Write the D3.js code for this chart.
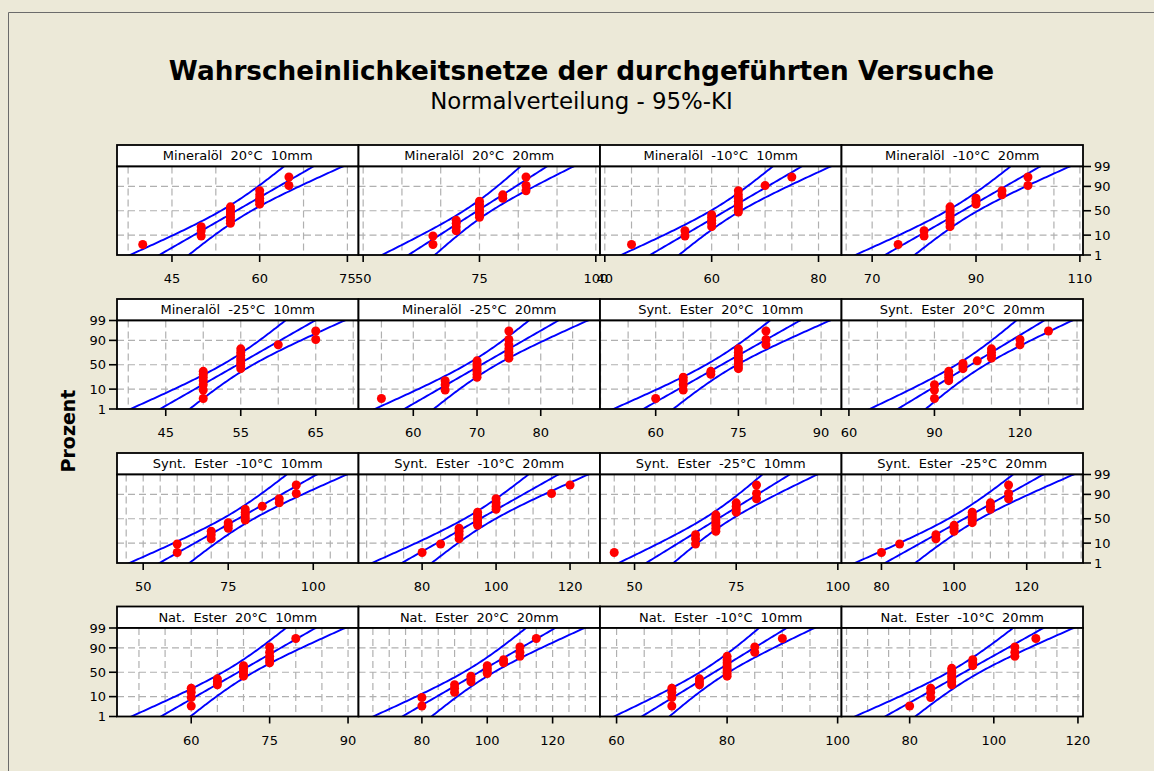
<!DOCTYPE html>
<html><head><meta charset="utf-8">
<script src="https://cdn.jsdelivr.net/npm/d3@7"></script>
<style>
html,body{margin:0;padding:0;background:#ECE9D8;}
svg{display:block;}
text{font-family:"DejaVu Sans", sans-serif;fill:#000;}
</style></head><body>
<svg id="chart" width="1154" height="771"></svg>
<script>
// ---- data: 16 test series (breakdown values), one array per panel ----
const panelTitles = [
  "Mineralöl 20°C 10mm", "Mineralöl 20°C 20mm", "Mineralöl -10°C 10mm", "Mineralöl -10°C 20mm",
  "Mineralöl -25°C 10mm", "Mineralöl -25°C 20mm", "Synt. Ester 20°C 10mm", "Synt. Ester 20°C 20mm",
  "Synt. Ester -10°C 10mm", "Synt. Ester -10°C 20mm", "Synt. Ester -25°C 10mm", "Synt. Ester -25°C 20mm",
  "Nat. Ester 20°C 10mm", "Nat. Ester 20°C 20mm", "Nat. Ester -10°C 10mm", "Nat. Ester -10°C 20mm"
];
const mineral_20_10 = [40, 50, 50, 50, 55, 55, 55, 55, 55, 55, 55, 60, 60, 60, 60, 60, 65, 65];
const mineral_20_20 = [65, 65, 70, 70, 70, 70, 75, 75, 75, 75, 75, 75, 75, 80, 80, 85, 85, 85];
const mineral_m10_10 = [45, 55, 55, 60, 60, 60, 60, 60, 65, 65, 65, 65, 65, 65, 65, 65, 70, 75];
const mineral_m10_20 = [75, 80, 80, 85, 85, 85, 85, 85, 85, 85, 85, 90, 90, 90, 95, 95, 100, 100];
const mineral_m25_10 = [50, 50, 50, 50, 50, 50, 50, 55, 55, 55, 55, 55, 55, 55, 55, 60, 65, 65];
const mineral_m25_20 = [55, 65, 65, 65, 70, 70, 70, 70, 70, 70, 70, 75, 75, 75, 75, 75, 75, 75];
const synt_20_10 = [60, 65, 65, 65, 65, 70, 70, 75, 75, 75, 75, 75, 75, 75, 75, 80, 80, 80];
const synt_20_20 = [90, 90, 90, 95, 95, 95, 95, 100, 100, 100, 105, 110, 110, 110, 110, 120, 120, 130];
const synt_m10_10 = [60, 60, 70, 70, 70, 75, 75, 75, 80, 80, 80, 80, 80, 85, 90, 90, 95, 95];
const synt_m10_20 = [80, 85, 90, 90, 90, 90, 95, 95, 95, 95, 95, 95, 100, 100, 100, 100, 115, 120];
const synt_m25_10 = [45, 65, 65, 65, 70, 70, 70, 70, 70, 70, 70, 75, 75, 75, 75, 80, 80, 80];
const synt_m25_20 = [80, 85, 95, 95, 100, 100, 100, 105, 105, 105, 105, 105, 110, 110, 110, 115, 115, 115];
const nat_20_10 = [60, 60, 60, 60, 65, 65, 65, 70, 70, 70, 70, 70, 75, 75, 75, 75, 75, 80];
const nat_20_20 = [80, 80, 90, 90, 90, 95, 95, 95, 100, 100, 100, 100, 105, 105, 110, 110, 110, 115];
const nat_m10_10 = [70, 70, 70, 70, 75, 75, 75, 80, 80, 80, 80, 80, 80, 80, 80, 85, 85, 90];
const nat_m10_20 = [80, 85, 85, 85, 90, 90, 90, 90, 90, 90, 90, 95, 95, 95, 105, 105, 105, 110];
const panelValues = [
  mineral_20_10, mineral_20_20, mineral_m10_10, mineral_m10_20,
  mineral_m25_10, mineral_m25_20, synt_20_10, synt_20_20,
  synt_m10_10, synt_m10_20, synt_m25_10, synt_m25_20,
  nat_20_10, nat_20_20, nat_m10_10, nat_m10_20
];
// fitted normal parameters (mean, standard deviation) per panel
const fitMeans = [56.0, 74.6, 62.65, 87.4, 54.57, 70.67, 71.96, 102.8,
                  77.9, 95.66, 70.5, 102.77, 68.98, 97.4, 77.67, 92.96];
const fitStDevs = [5.66, 6.40, 6.10, 6.42, 4.44, 5.20, 6.11, 11.05,
                   9.95, 9.10, 7.6, 9.37, 6.36, 10.06, 5.64, 8.09];
// x axis ranges, labelled ticks and grid spacing per panel
const xDomains = [
  [35.6, 76.9], [49, 100.9], [39.1, 84.3], [64.1, 110.6],
  [38.5, 70.7], [51.4, 89.3], [49.9, 93.7], [57.4, 142.1],
  [42.3, 113.3], [62.8, 128.1], [41.5, 100.9], [69, 135.5],
  [45.8, 92], [60.6, 134.5], [57, 100.7], [63.8, 121.2]
];
const xTicks = [
  [45, 60, 75], [50, 75, 100], [40, 60, 80], [70, 90, 110],
  [45, 55, 65], [60, 70, 80], [60, 75, 90], [60, 90, 120],
  [50, 75, 100], [80, 100, 120], [50, 75, 100], [80, 100, 120],
  [60, 75, 90], [80, 100, 120], [60, 80, 100], [80, 100, 120]
];
const xGridSteps = [7.5, 25 / 3, 5, 5, 5, 5, 5, 10, 5, 5, 5, 5, 5, 5, 5, 5];
// probability axis (percent)
const yTickLabels = [1, 10, 50, 90, 99];
const yGridLines = [10, 50, 90];
const confLevel = 0.95;

// ---- inverse standard normal CDF (Acklam) ----
function probit(p) {
  const a = [-3.969683028665376e+01, 2.209460984245205e+02, -2.759285104469687e+02, 1.383577518672690e+02, -3.066479806614716e+01, 2.506628277459239e+00];
  const b = [-5.447609879822406e+01, 1.615858368580409e+02, -1.556989798598866e+02, 6.680131188771972e+01, -1.328068155288572e+01];
  const c = [-7.784894002430293e-03, -3.223964580411365e-01, -2.400758277161838e+00, -2.549732539343734e+00, 4.374664141464968e+00, 2.938163982698783e+00];
  const d = [7.784695709041462e-03, 3.224671290700398e-01, 2.445134137142996e+00, 3.754408661907416e+00];
  const pl = 0.02425, ph = 1 - pl;
  let q, r;
  if (p < pl) { q = Math.sqrt(-2 * Math.log(p));
    return (((((c[0]*q+c[1])*q+c[2])*q+c[3])*q+c[4])*q+c[5]) / ((((d[0]*q+d[1])*q+d[2])*q+d[3])*q+1); }
  if (p > ph) { q = Math.sqrt(-2 * Math.log(1 - p));
    return -(((((c[0]*q+c[1])*q+c[2])*q+c[3])*q+c[4])*q+c[5]) / ((((d[0]*q+d[1])*q+d[2])*q+d[3])*q+1); }
  q = p - 0.5; r = q * q;
  return (((((a[0]*r+a[1])*r+a[2])*r+a[3])*r+a[4])*r+a[5])*q / (((((b[0]*r+b[1])*r+b[2])*r+b[3])*r+b[4])*r+1);
}

// ---- layout ----
const svg = d3.select("#chart");
const W = 1154, H = 771;
const colLeft = [117, 358.5, 600, 841.5];
const panelW = 241.5;
const rowTop = [145, 299, 453, 606.5];
const stripH = 21.5, plotH = 88.5;
const zLo = probit(0.01), zHi = probit(0.99);
const zCrit = probit(1 - (1 - confLevel) / 2);

svg.append("rect").attr("width", W).attr("height", H).attr("fill", "#ECE9D8");
svg.append("path").attr("d", `M8.5,${H} V12.5 H${W}`).attr("fill", "none").attr("stroke", "#6b6b6b").attr("stroke-width", 1);

// titles
function fitText(sel, width) {
  const w = sel.node().getComputedTextLength();
  const fs = parseFloat(sel.attr("font-size"));
  sel.attr("font-size", fs * width / w);
}
const title = svg.append("text").attr("x", 581.5).attr("y", 80).attr("text-anchor", "middle")
  .attr("font-size", 23).attr("font-weight", "bold")
  .text("Wahrscheinlichkeitsnetze der durchgeführten Versuche");
fitText(title, 826);
const subtitle = svg.append("text").attr("x", 581.5).attr("y", 109).attr("text-anchor", "middle")
  .attr("font-size", 18).text("Normalverteilung - 95%-KI");
fitText(subtitle, 303);

svg.append("text").attr("transform", "translate(75,431) rotate(-90)").attr("text-anchor", "middle")
  .attr("font-size", 19).attr("font-weight", "bold").text("Prozent");

const defs = svg.append("defs");

panelValues.forEach((vals, k) => {
  const row = Math.floor(k / 4), col = k % 4;
  const x0 = colLeft[col], x1 = x0 + panelW;
  const sTop = rowTop[row], pTop = sTop + stripH, pBot = pTop + plotH;
  const x = d3.scaleLinear().domain(xDomains[k]).range([x0, x1]);
  const y = d3.scaleLinear().domain([zLo, zHi]).range([pBot, pTop]);
  const g = svg.append("g");

  // strip
  g.append("rect").attr("x", x0).attr("y", sTop).attr("width", panelW).attr("height", stripH)
    .attr("fill", "#fff").attr("stroke", "#000").attr("stroke-width", 1.8);
  g.append("text").attr("x", (x0 + x1) / 2).attr("y", sTop + stripH / 2 + 4.6).attr("text-anchor", "middle")
    .attr("font-size", 13).attr("word-spacing", 4).text(panelTitles[k]);

  // plot area
  g.append("rect").attr("x", x0).attr("y", pTop).attr("width", panelW).attr("height", plotH).attr("fill", "#fff");

  const clipId = "clip" + k;
  defs.append("clipPath").attr("id", clipId).append("rect")
    .attr("x", x0).attr("y", pTop).attr("width", panelW).attr("height", plotH);
  const inner = g.append("g").attr("clip-path", `url(#${clipId})`);

  // grid
  const step = xGridSteps[k];
  const gridVals = d3.range(Math.ceil(xDomains[k][0] / step - 1e-9) * step, xDomains[k][1], step);
  inner.append("g").selectAll("line").data(gridVals).join("line")
    .attr("x1", d => x(d)).attr("x2", d => x(d)).attr("y1", pTop).attr("y2", pBot)
    .attr("stroke", "#b0b0b0").attr("stroke-width", 1.2).attr("stroke-dasharray", "7,4");
  inner.append("g").selectAll("line").data(yGridLines).join("line")
    .attr("x1", x0).attr("x2", x1).attr("y1", d => y(probit(d / 100))).attr("y2", d => y(probit(d / 100)))
    .attr("stroke", "#b0b0b0").attr("stroke-width", 1.2).attr("stroke-dasharray", "7,4");

  // fitted normal percentile line with 95% confidence band
  const n = vals.length;
  const mu = fitMeans[k], sd = fitStDevs[k];
  const zs = d3.range(zLo - 0.05, zHi + 0.06, 0.05);
  const band = [-1, 0, 1].map(s => zs.map(z => ({
    z, v: mu + z * sd + s * zCrit * sd * Math.sqrt((1 + z * z / 2) / n)
  })));
  const line = d3.line().x(d => x(d.v)).y(d => y(d.z));
  inner.append("g").selectAll("path").data(band).join("path")
    .attr("d", line).attr("fill", "none").attr("stroke", "#0000ff").attr("stroke-width", 1.9);

  // data points at median ranks
  const sorted = vals.slice().sort(d3.ascending);
  inner.append("g").selectAll("circle").data(sorted).join("circle")
    .attr("cx", d => x(d)).attr("cy", (d, i) => y(probit((i + 1 - 0.3) / (n + 0.4))))
    .attr("r", 4.5).attr("fill", "#ff0000");

  // frame
  g.append("rect").attr("x", x0).attr("y", pTop).attr("width", panelW).attr("height", plotH)
    .attr("fill", "none").attr("stroke", "#000").attr("stroke-width", 1.8);

  // x axis ticks
  const xa = g.append("g");
  xa.selectAll("line").data(xTicks[k]).join("line")
    .attr("x1", d => x(d)).attr("x2", d => x(d)).attr("y1", pBot).attr("y2", pBot + 7)
    .attr("stroke", "#000").attr("stroke-width", 1.6);
  xa.selectAll("text").data(xTicks[k]).join("text")
    .attr("x", d => x(d)).attr("y", pBot + 28).attr("text-anchor", "middle").attr("font-size", 13)
    .text(d => d);

  // probability axis on the outer columns
  const leftSide = (row % 2 === 1 && col === 0), rightSide = (row % 2 === 0 && col === 3);
  if (leftSide || rightSide) {
    const ya = g.append("g");
    const dir = leftSide ? -1 : 1;
    const xe = leftSide ? x0 : x1;
    ya.selectAll("line").data(yTickLabels).join("line")
      .attr("x1", xe).attr("x2", xe + dir * 8)
      .attr("y1", d => y(probit(d / 100))).attr("y2", d => y(probit(d / 100)))
      .attr("stroke", "#000").attr("stroke-width", 1.6);
    ya.selectAll("text").data(yTickLabels).join("text")
      .attr("x", xe + dir * 11).attr("y", d => y(probit(d / 100)) + 4.7)
      .attr("text-anchor", leftSide ? "end" : "start").attr("font-size", 13)
      .text(d => d);
  }
});
</script>
</body></html>
